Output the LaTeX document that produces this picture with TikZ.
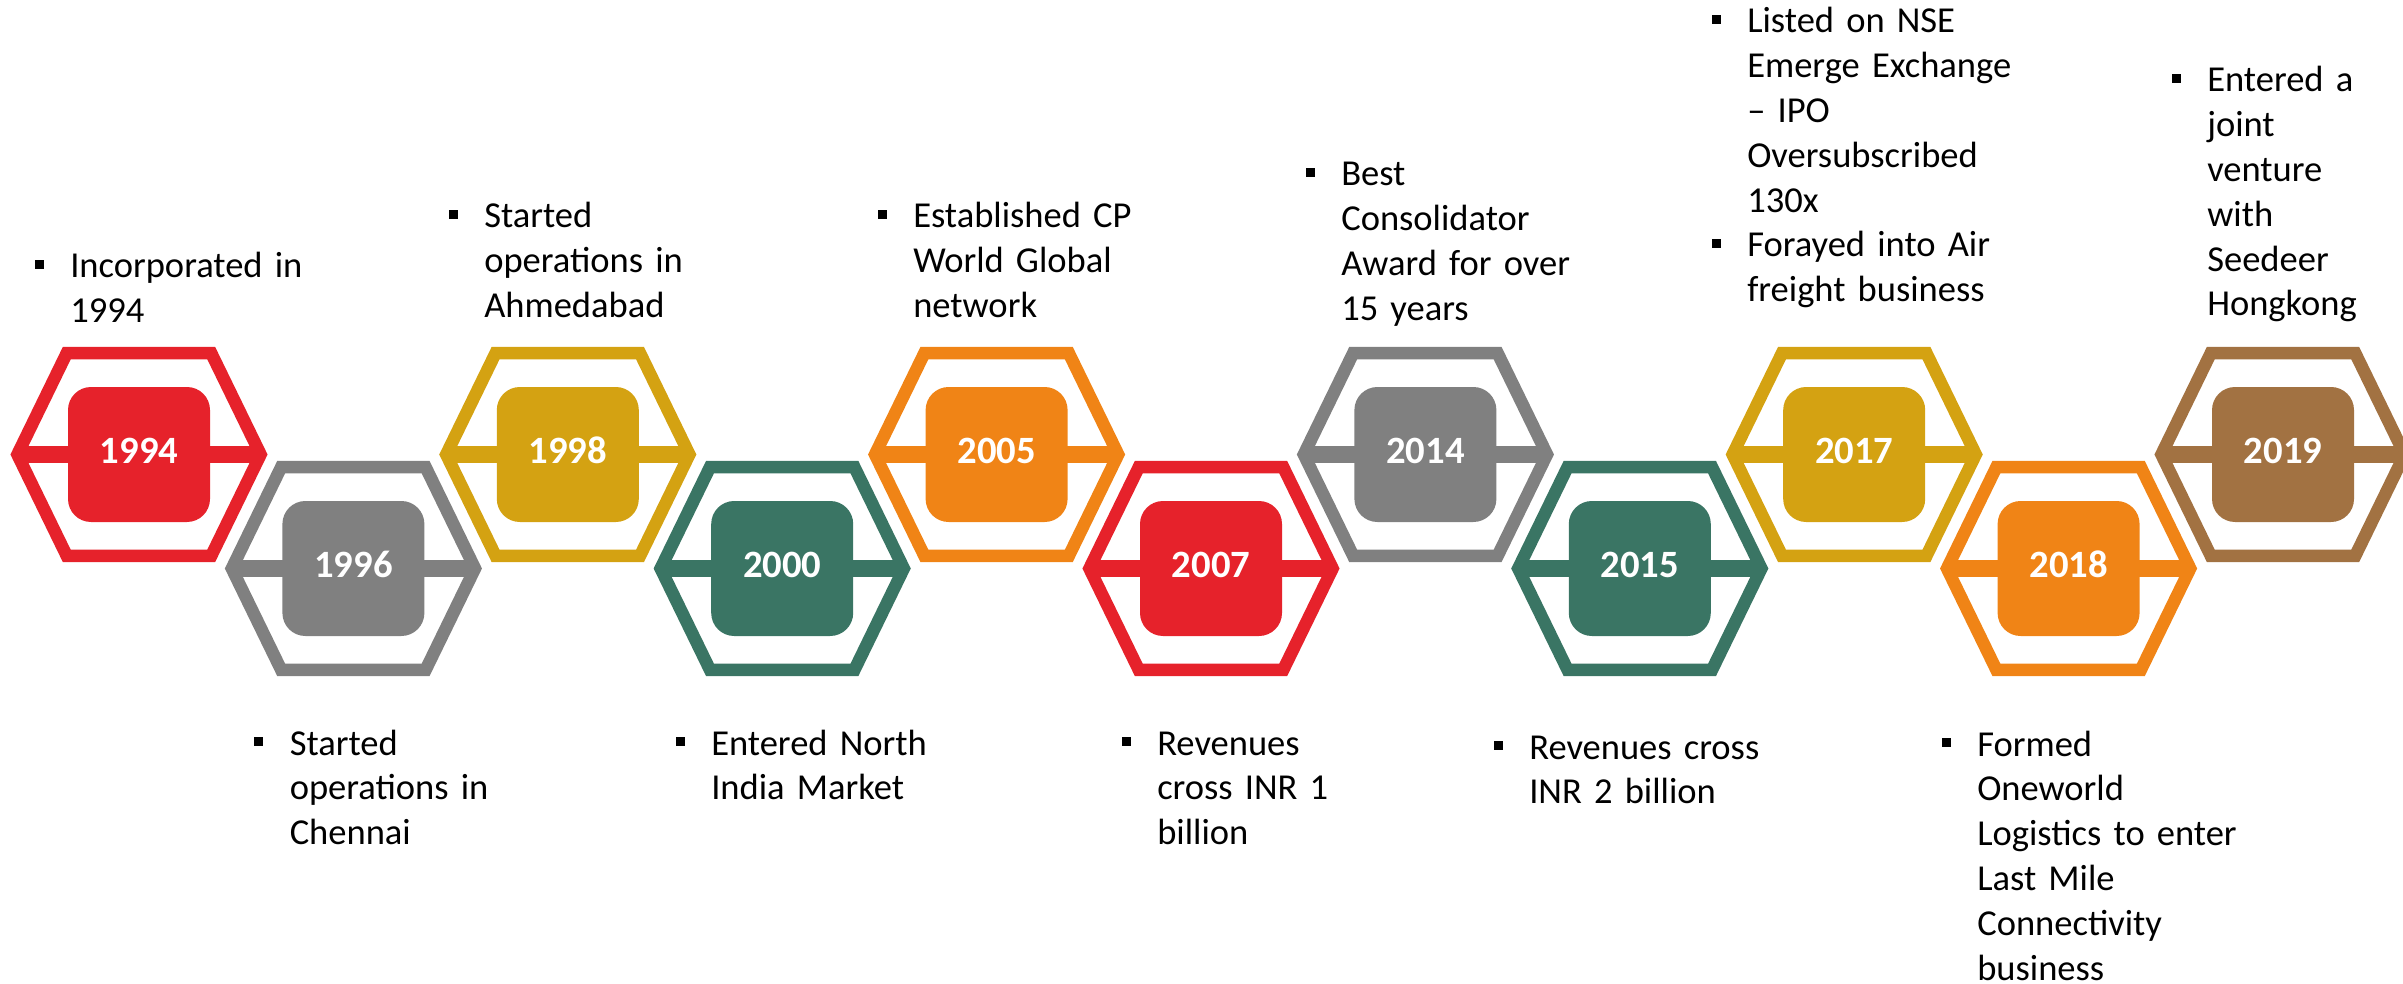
\documentclass[tikz,border=0pt]{standalone}
\usepackage{fontspec}
\setmainfont{Carlito}
\definecolor{cred}{RGB}{230,34,43}
\definecolor{cgrey}{RGB}{128,128,128}
\definecolor{cgold}{RGB}{212,162,18}
\definecolor{cgreen}{RGB}{58,117,100}
\definecolor{corange}{RGB}{240,132,22}
\definecolor{cbrown}{RGB}{162,114,66}
\tikzset{
  hexline/.style={line width=9.4pt, line join=miter},
  hexbar/.style={line width=12.75pt},
  yearbox/.style={rounded corners=17.25pt, minimum width=106.5pt, minimum height=101.25pt, inner sep=0pt},
  yeartext/.style={text=white, inner sep=0pt, font=\bfseries\fontsize{29}{34}\selectfont},
  evt/.style={anchor=base west, inner sep=0pt, align=left, text width=330pt, font=\fontsize{27.4}{33.6}\selectfont},
  bulletsq/.style={fill=black, minimum size=6.75pt, inner sep=0pt}
}
\begin{document}
\begin{tikzpicture}[x=0.75pt, y=-0.75pt]
\useasboundingbox (0,0) rectangle (2403,984);
\clip (0,0) rectangle (2403,984);
\foreach \i/\cy/\col/\yr in {0/454.5/cred/1994, 1/568.5/cgrey/1996, 2/454.5/cgold/1998, 3/568.5/cgreen/2000, 4/454.5/corange/2005, 5/568.5/cred/2007, 6/454.5/cgrey/2014, 7/568.5/cgreen/2015, 8/454.5/cgold/2017, 9/568.5/corange/2018, 10/454.5/cbrown/2019}{
  \pgfmathsetmacro\cx{139+214.4*\i}
  \draw[hexline, draw=\col] ({\cx-121.6},\cy) -- ++(49.4,-101.4) -- ++(144.4,0) -- ++(49.4,101.4) -- ++(-49.4,101.4) -- ++(-144.4,0) -- cycle;
  \draw[hexbar, draw=\col] ({\cx-121.6},\cy) -- ({\cx+121.6},\cy);
  \node[yearbox, fill=\col] (b\yr) at (\cx,\cy) {};
  \node[yeartext] (t\yr) at ([yshift=3pt]b\yr.center) {\yr};
}
% text blocks
\node[evt] (e1) at (70,278) {Incorporated in\\1994};
\node[bulletsq] (p1) at (39,264.5) {};
\node[evt] (e2) at (289.5,755) {Started\\operations in\\Chennai};
\node[bulletsq] (p2) at (258.5,741.5) {};
\node[evt] (e3) at (484,228) {Started\\operations in\\Ahmedabad};
\node[bulletsq] (p3) at (453,214.5) {};
\node[evt] (e4) at (711,755) {Entered North\\India Market};
\node[bulletsq] (p4) at (680,741.5) {};
\node[evt] (e5) at (913,228) {Established CP\\World Global\\network};
\node[bulletsq] (p5) at (882,214.5) {};
\node[evt] (e6) at (1157,755) {Revenues\\cross INR 1\\billion};
\node[bulletsq] (p6) at (1126,741.5) {};
\node[evt] (e7) at (1341,186) {Best\\Consolidator\\Award for over\\15 years};
\node[bulletsq] (p7) at (1310,172.5) {};
\node[evt] (e8) at (1529,759) {Revenues cross\\INR 2 billion};
\node[bulletsq] (p8) at (1498,745.5) {};
\node[evt] (e9) at (1747,33) {Listed on NSE\\Emerge Exchange\\– IPO\\Oversubscribed\\130x\\Forayed into Air\\freight business};
\node[bulletsq] (p9a) at (1716,19.5) {};
\node[bulletsq] (p9b) at (1716,243.5) {};
\node[evt] (e10) at (1977,756) {Formed\\Oneworld\\Logistics to enter\\Last Mile\\Connectivity\\business};
\node[bulletsq] (p10) at (1946,742.5) {};
\node[evt] (e11) at (2207,92) {Entered a\\joint\\venture\\with\\Seedeer\\Hongkong};
\node[bulletsq] (p11) at (2176,78.5) {};
\end{tikzpicture}
\end{document}
